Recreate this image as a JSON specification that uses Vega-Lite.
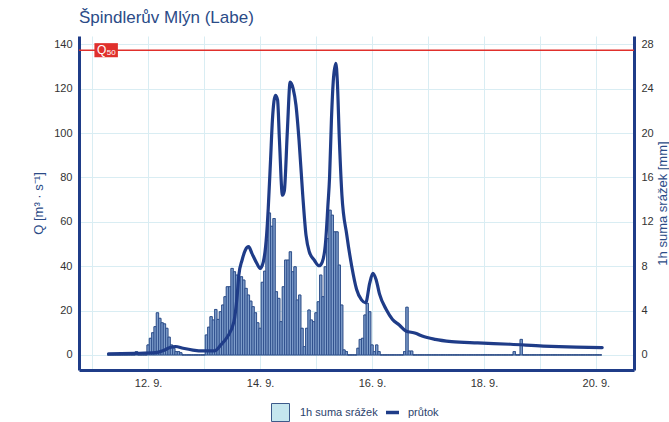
{
"$schema":"https://vega.github.io/schema/vega-lite/v6.json",
"width":555,"height":334,
"autosize":{"type":"none"},
"padding":{"left":79,"top":36,"right":35,"bottom":52},
"background":"white",
"config":{"font":"Liberation Sans","view":{"stroke":null},"axis":{"labelFont":"Liberation Sans","titleFont":"Liberation Sans"}},
"title":{"text":"Špindlerův Mlýn (Labe)","anchor":"start","frame":"group","fontSize":17,"fontWeight":"normal","color":"#2b4b87","offset":9,"font":"Liberation Sans"},
"datasets":{
"flow":[
{"t":"2024-09-11T07:00","q":0.5},{"t":"2024-09-11T18:00","q":0.7},{"t":"2024-09-12T03:00","q":1.0},{"t":"2024-09-12T06:36","q":2.0},{"t":"2024-09-12T09:06","q":3.2},{"t":"2024-09-12T11:42","q":3.8},{"t":"2024-09-12T15:00","q":3.0},{"t":"2024-09-12T19:12","q":2.2},{"t":"2024-09-12T23:30","q":1.8},{"t":"2024-09-13T04:24","q":1.8},{"t":"2024-09-13T07:12","q":4.5},{"t":"2024-09-13T10:00","q":8.2},{"t":"2024-09-13T12:48","q":15},{"t":"2024-09-13T14:12","q":27},{"t":"2024-09-13T14:54","q":36},{"t":"2024-09-13T16:18","q":42.8},{"t":"2024-09-13T17:42","q":47.3},{"t":"2024-09-13T19:06","q":48.8},{"t":"2024-09-13T20:30","q":45.8},{"t":"2024-09-13T22:36","q":41.3},{"t":"2024-09-14T00:00","q":39},{"t":"2024-09-14T01:24","q":42},{"t":"2024-09-14T02:48","q":54},{"t":"2024-09-14T03:30","q":66},{"t":"2024-09-14T04:30","q":88},{"t":"2024-09-14T05:18","q":106},{"t":"2024-09-14T06:36","q":117},{"t":"2024-09-14T07:30","q":115},{"t":"2024-09-14T08:18","q":97},{"t":"2024-09-14T09:36","q":72},{"t":"2024-09-14T10:24","q":74},{"t":"2024-09-14T11:42","q":101},{"t":"2024-09-14T12:54","q":123},{"t":"2024-09-14T14:12","q":120},{"t":"2024-09-14T15:24","q":112.6},{"t":"2024-09-14T16:42","q":97},{"t":"2024-09-14T18:18","q":72},{"t":"2024-09-14T19:42","q":54},{"t":"2024-09-14T21:06","q":46.5},{"t":"2024-09-14T23:12","q":42.8},{"t":"2024-09-15T01:18","q":40.2},{"t":"2024-09-15T02:42","q":42},{"t":"2024-09-15T04:06","q":51},{"t":"2024-09-15T05:06","q":67.5},{"t":"2024-09-15T05:48","q":80},{"t":"2024-09-15T06:36","q":106},{"t":"2024-09-15T07:30","q":125},{"t":"2024-09-15T08:30","q":131.5},{"t":"2024-09-15T09:06","q":124},{"t":"2024-09-15T10:00","q":97},{"t":"2024-09-15T11:06","q":72},{"t":"2024-09-15T13:12","q":54},{"t":"2024-09-15T15:18","q":40},{"t":"2024-09-15T17:24","q":29.5},{"t":"2024-09-15T19:30","q":24.8},{"t":"2024-09-15T21:18","q":23.5},{"t":"2024-09-15T23:00","q":32.3},{"t":"2024-09-16T00:24","q":36.8},{"t":"2024-09-16T01:48","q":33.8},{"t":"2024-09-16T03:12","q":27.5},{"t":"2024-09-16T06:06","q":20.5},{"t":"2024-09-16T08:48","q":16},{"t":"2024-09-16T11:42","q":13.5},{"t":"2024-09-16T14:30","q":10.8},{"t":"2024-09-16T18:42","q":9.8},{"t":"2024-09-16T21:30","q":8.5},{"t":"2024-09-17T03:06","q":7},{"t":"2024-09-17T10:06","q":6},{"t":"2024-09-17T21:18","q":5.4},{"t":"2024-09-18T11:24","q":4.8},{"t":"2024-09-19T01:24","q":4.0},{"t":"2024-09-19T15:30","q":3.5},{"t":"2024-09-20T02:42","q":3.3}
],
"rain":[
{"t":"2024-09-11T07:00","p":0},{"t":"2024-09-11T08:00","p":0},{"t":"2024-09-11T09:00","p":0},{"t":"2024-09-11T10:00","p":0},{"t":"2024-09-11T11:00","p":0},{"t":"2024-09-11T12:00","p":0},{"t":"2024-09-11T13:00","p":0},{"t":"2024-09-11T14:00","p":0},{"t":"2024-09-11T15:00","p":0},{"t":"2024-09-11T16:00","p":0},{"t":"2024-09-11T17:00","p":0},{"t":"2024-09-11T18:00","p":0},{"t":"2024-09-11T19:00","p":0.3},{"t":"2024-09-11T20:00","p":0},{"t":"2024-09-11T21:00","p":0},{"t":"2024-09-11T22:00","p":0},{"t":"2024-09-11T23:00","p":0},
{"t":"2024-09-12T00:00","p":0.9},{"t":"2024-09-12T01:00","p":1.5},{"t":"2024-09-12T02:00","p":2.0},{"t":"2024-09-12T03:00","p":2.55},{"t":"2024-09-12T04:00","p":3.8},{"t":"2024-09-12T05:00","p":3.3},{"t":"2024-09-12T06:00","p":2.9},{"t":"2024-09-12T07:00","p":2.8},{"t":"2024-09-12T08:00","p":2.4},{"t":"2024-09-12T09:00","p":1.6},{"t":"2024-09-12T10:00","p":0.9},{"t":"2024-09-12T11:00","p":0.6},{"t":"2024-09-12T12:00","p":0.3},{"t":"2024-09-12T13:00","p":0.3},{"t":"2024-09-12T14:00","p":0.2},{"t":"2024-09-12T15:00","p":0},{"t":"2024-09-12T16:00","p":0},{"t":"2024-09-12T17:00","p":0},{"t":"2024-09-12T18:00","p":0},{"t":"2024-09-12T19:00","p":0},{"t":"2024-09-12T20:00","p":0},{"t":"2024-09-12T21:00","p":0},{"t":"2024-09-12T22:00","p":0},{"t":"2024-09-12T23:00","p":0},
{"t":"2024-09-13T00:00","p":0},{"t":"2024-09-13T01:00","p":1.8},{"t":"2024-09-13T02:00","p":2.5},{"t":"2024-09-13T03:00","p":3.45},{"t":"2024-09-13T04:00","p":3.15},{"t":"2024-09-13T05:00","p":4.1},{"t":"2024-09-13T06:00","p":3.2},{"t":"2024-09-13T07:00","p":3.9},{"t":"2024-09-13T08:00","p":4.5},{"t":"2024-09-13T09:00","p":5.25},{"t":"2024-09-13T10:00","p":6.15},{"t":"2024-09-13T11:00","p":6.15},{"t":"2024-09-13T12:00","p":7.8},{"t":"2024-09-13T13:00","p":7.5},{"t":"2024-09-13T14:00","p":7.2},{"t":"2024-09-13T15:00","p":6.75},{"t":"2024-09-13T16:00","p":7.05},{"t":"2024-09-13T17:00","p":6.75},{"t":"2024-09-13T18:00","p":6.0},{"t":"2024-09-13T19:00","p":5.4},{"t":"2024-09-13T20:00","p":4.85},{"t":"2024-09-13T21:00","p":4.35},{"t":"2024-09-13T22:00","p":3.8},{"t":"2024-09-13T23:00","p":2.9},
{"t":"2024-09-14T00:00","p":2.4},{"t":"2024-09-14T01:00","p":6.55},{"t":"2024-09-14T02:00","p":7.55},{"t":"2024-09-14T03:00","p":10.35},{"t":"2024-09-14T04:00","p":12.8},{"t":"2024-09-14T05:00","p":11.6},{"t":"2024-09-14T06:00","p":12.3},{"t":"2024-09-14T07:00","p":5.7},{"t":"2024-09-14T08:00","p":5.1},{"t":"2024-09-14T09:00","p":3.0},{"t":"2024-09-14T10:00","p":6.15},{"t":"2024-09-14T11:00","p":8.55},{"t":"2024-09-14T12:00","p":8.55},{"t":"2024-09-14T13:00","p":9.3},{"t":"2024-09-14T14:00","p":7.5},{"t":"2024-09-14T15:00","p":7.95},{"t":"2024-09-14T16:00","p":4.95},{"t":"2024-09-14T17:00","p":5.4},{"t":"2024-09-14T18:00","p":2.4},{"t":"2024-09-14T19:00","p":0.75},{"t":"2024-09-14T20:00","p":2.4},{"t":"2024-09-14T21:00","p":4.05},{"t":"2024-09-14T22:00","p":3.15},{"t":"2024-09-14T23:00","p":3.0},
{"t":"2024-09-15T00:00","p":3.8},{"t":"2024-09-15T01:00","p":4.8},{"t":"2024-09-15T02:00","p":7.2},{"t":"2024-09-15T03:00","p":5.25},{"t":"2024-09-15T04:00","p":7.95},{"t":"2024-09-15T05:00","p":10.5},{"t":"2024-09-15T06:00","p":13.05},{"t":"2024-09-15T07:00","p":12.6},{"t":"2024-09-15T08:00","p":11.1},{"t":"2024-09-15T09:00","p":11.1},{"t":"2024-09-15T10:00","p":8.1},{"t":"2024-09-15T11:00","p":4.5},{"t":"2024-09-15T12:00","p":0.45},{"t":"2024-09-15T13:00","p":0.3},{"t":"2024-09-15T14:00","p":0},{"t":"2024-09-15T15:00","p":0},{"t":"2024-09-15T16:00","p":0},{"t":"2024-09-15T17:00","p":0},{"t":"2024-09-15T18:00","p":0.6},{"t":"2024-09-15T19:00","p":1.4},{"t":"2024-09-15T20:00","p":1.5},{"t":"2024-09-15T21:00","p":3.6},{"t":"2024-09-15T22:00","p":4.65},{"t":"2024-09-15T23:00","p":3.9},
{"t":"2024-09-16T00:00","p":0.9},{"t":"2024-09-16T01:00","p":0.3},{"t":"2024-09-16T02:00","p":0.9},{"t":"2024-09-16T03:00","p":0.3},{"t":"2024-09-16T04:00","p":0},{"t":"2024-09-16T05:00","p":0},{"t":"2024-09-16T06:00","p":0},{"t":"2024-09-16T07:00","p":0},{"t":"2024-09-16T08:00","p":0},{"t":"2024-09-16T09:00","p":0},{"t":"2024-09-16T10:00","p":0},{"t":"2024-09-16T11:00","p":0},{"t":"2024-09-16T12:00","p":0},{"t":"2024-09-16T13:00","p":0},{"t":"2024-09-16T14:00","p":0.3},{"t":"2024-09-16T15:00","p":4.3},{"t":"2024-09-16T16:00","p":0.35},{"t":"2024-09-16T17:00","p":0.35},{"t":"2024-09-16T18:00","p":0},{"t":"2024-09-16T19:00","p":0},{"t":"2024-09-16T20:00","p":0},{"t":"2024-09-16T21:00","p":0},{"t":"2024-09-16T22:00","p":0},{"t":"2024-09-16T23:00","p":0},
{"t":"2024-09-17T00:00","p":0},{"t":"2024-09-17T01:00","p":0},{"t":"2024-09-17T02:00","p":0},{"t":"2024-09-17T03:00","p":0},{"t":"2024-09-17T04:00","p":0},{"t":"2024-09-17T05:00","p":0},{"t":"2024-09-17T06:00","p":0},{"t":"2024-09-17T07:00","p":0},{"t":"2024-09-17T08:00","p":0},{"t":"2024-09-17T09:00","p":0},{"t":"2024-09-17T10:00","p":0},{"t":"2024-09-17T11:00","p":0},{"t":"2024-09-17T12:00","p":0},{"t":"2024-09-17T13:00","p":0},{"t":"2024-09-17T14:00","p":0},{"t":"2024-09-17T15:00","p":0},{"t":"2024-09-17T16:00","p":0},{"t":"2024-09-17T17:00","p":0},{"t":"2024-09-17T18:00","p":0},{"t":"2024-09-17T19:00","p":0},{"t":"2024-09-17T20:00","p":0},{"t":"2024-09-17T21:00","p":0},{"t":"2024-09-17T22:00","p":0},{"t":"2024-09-17T23:00","p":0},
{"t":"2024-09-18T00:00","p":0},{"t":"2024-09-18T01:00","p":0},{"t":"2024-09-18T02:00","p":0},{"t":"2024-09-18T03:00","p":0},{"t":"2024-09-18T04:00","p":0},{"t":"2024-09-18T05:00","p":0},{"t":"2024-09-18T06:00","p":0},{"t":"2024-09-18T07:00","p":0},{"t":"2024-09-18T08:00","p":0},{"t":"2024-09-18T09:00","p":0},{"t":"2024-09-18T10:00","p":0},{"t":"2024-09-18T11:00","p":0},{"t":"2024-09-18T12:00","p":0},{"t":"2024-09-18T13:00","p":0.3},{"t":"2024-09-18T14:00","p":0},{"t":"2024-09-18T15:00","p":0},{"t":"2024-09-18T16:00","p":1.4},{"t":"2024-09-18T17:00","p":0},{"t":"2024-09-18T18:00","p":0},{"t":"2024-09-18T19:00","p":0},{"t":"2024-09-18T20:00","p":0},{"t":"2024-09-18T21:00","p":0},{"t":"2024-09-18T22:00","p":0},{"t":"2024-09-18T23:00","p":0},
{"t":"2024-09-19T00:00","p":0},{"t":"2024-09-19T01:00","p":0},{"t":"2024-09-19T02:00","p":0},{"t":"2024-09-19T03:00","p":0},{"t":"2024-09-19T04:00","p":0},{"t":"2024-09-19T05:00","p":0},{"t":"2024-09-19T06:00","p":0},{"t":"2024-09-19T07:00","p":0},{"t":"2024-09-19T08:00","p":0},{"t":"2024-09-19T09:00","p":0},{"t":"2024-09-19T10:00","p":0},{"t":"2024-09-19T11:00","p":0},{"t":"2024-09-19T12:00","p":0},{"t":"2024-09-19T13:00","p":0},{"t":"2024-09-19T14:00","p":0},{"t":"2024-09-19T15:00","p":0},{"t":"2024-09-19T16:00","p":0},{"t":"2024-09-19T17:00","p":0},{"t":"2024-09-19T18:00","p":0},{"t":"2024-09-19T19:00","p":0},{"t":"2024-09-19T20:00","p":0},{"t":"2024-09-19T21:00","p":0},{"t":"2024-09-19T22:00","p":0},{"t":"2024-09-19T23:00","p":0},
{"t":"2024-09-20T00:00","p":0},{"t":"2024-09-20T01:00","p":0},{"t":"2024-09-20T02:00","p":0}
]
},
"layer":[
{"layer":[
 {"data":{"name":"rain"},
  "mark":{"type":"bar","size":2.3,"stroke":"#3d5a8a","strokeWidth":0.8},
  "encoding":{
   "x":{"field":"t","type":"temporal","title":null,
    "scale":{"domain":[{"year":2024,"month":9,"date":10,"hours":20,"minutes":30},{"year":2024,"month":9,"date":20,"hours":14,"minutes":12}]},
    "axis":{"values":[{"year":2024,"month":9,"date":11},{"year":2024,"month":9,"date":12},{"year":2024,"month":9,"date":13},{"year":2024,"month":9,"date":14},{"year":2024,"month":9,"date":15},{"year":2024,"month":9,"date":16},{"year":2024,"month":9,"date":17},{"year":2024,"month":9,"date":18},{"year":2024,"month":9,"date":19},{"year":2024,"month":9,"date":20}],
     "labelExpr":"date(datum.value) % 2 === 0 ? timeFormat(datum.value, '%-d. %-m.') : ''",
     "grid":true,"gridColor":"#d9edf3","gridWidth":1,"ticks":false,"domainColor":"#1f3c88","domainWidth":3,
     "labelPadding":7,"labelFontSize":11,"labelColor":"#333333","labelFlush":false,"labelOverlap":false,"title":null}},
   "y":{"field":"p","type":"quantitative",
    "scale":{"domain":[-1.36,28.76],"nice":false},
    "axis":{"orient":"right","values":[0,4,8,12,16,20,24,28],"grid":false,"ticks":false,"domainColor":"#1f3c88","domainWidth":3,
     "labelPadding":7,"labelFontSize":11,"labelColor":"#333333","title":"1h suma srážek [mm]","titleFontSize":13,"titleFontWeight":"normal","titleColor":"#2b4b87","titlePadding":3,"titleAngle":270,"titleBaseline":"top"}},
   "fill":{"datum":"1h suma srážek","type":"nominal",
    "scale":{"domain":["1h suma srážek"],"range":["#c5e6ee"]},
    "legend":{"orient":"none","legendX":192,"legendY":367,"direction":"horizontal","title":null,"labelFontSize":11,"labelColor":"#2b3f6b","labelFont":"Liberation Sans","labelOffset":10,"symbolType":"square","symbolSize":324,"symbolStrokeColor":"#3d5a8a","symbolStrokeWidth":1,"symbolOpacity":1}}
  }},
 {"data":{"name":"rain"},
  "mark":{"type":"bar","size":2.3,"fill":"#7f9ecb","stroke":"#274787","strokeWidth":0.8},
  "encoding":{
   "x":{"field":"t","type":"temporal","title":null},
   "y":{"field":"p","type":"quantitative",
    "scale":{"domain":[-1.36,28.76],"nice":false},
    "axis":{"orient":"right","values":[0,4,8,12,16,20,24,28],"grid":false,"ticks":false,"domainColor":"#1f3c88","domainWidth":3,
     "labelPadding":7,"labelFontSize":11,"labelColor":"#333333","title":"1h suma srážek [mm]","titleFontSize":13,"titleFontWeight":"normal","titleColor":"#2b4b87","titlePadding":3,"titleAngle":270,"titleBaseline":"top"}}
  }}
]},
{"layer":[
  {"data":{"name":"flow"},
   "mark":{"type":"line","interpolate":"monotone","strokeWidth":3.2,"strokeCap":"round","strokeJoin":"round"},
   "encoding":{
    "x":{"field":"t","type":"temporal","title":null},
    "y":{"field":"q","type":"quantitative","scale":{"domain":[-6.8,143.8],"nice":false},
     "axis":{"values":[0,20,40,60,80,100,120,140],"grid":true,"gridColor":"#d9edf3","gridWidth":1,"ticks":false,"domainColor":"#1f3c88","domainWidth":3,
      "labelPadding":7,"labelFontSize":11,"labelColor":"#333333","title":"Q [m³ · s⁻¹]","titleFontSize":13,"titleFontWeight":"normal","titleColor":"#2b4b87","titlePadding":8}},
    "stroke":{"datum":"průtok","type":"nominal",
     "scale":{"domain":["průtok"],"range":["#1f3c88"]},
     "legend":{"orient":"none","legendX":305,"legendY":368,"direction":"horizontal","title":null,"labelFontSize":11,"labelColor":"#2b3f6b","labelFont":"Liberation Sans","labelOffset":7,"symbolType":"stroke","symbolSize":170,"symbolStrokeWidth":3.5}}}},
  {"data":{"values":[{}]},
   "mark":{"type":"rule","color":"#e0302c","strokeWidth":1.5},
   "encoding":{"y":{"datum":137.4,"type":"quantitative"}}},
  {"data":{"values":[{}]},
   "mark":{"type":"point","shape":"M-1,-0.6H1V0.6H-1Z","size":552,"filled":true,"fill":"#e0302c","stroke":null,"opacity":1},
   "encoding":{"x":{"datum":{"year":2024,"month":9,"date":11,"hours":6},"type":"temporal"},"y":{"datum":137.4,"type":"quantitative"}}},
  {"data":{"values":[{}]},
   "mark":{"type":"text","text":"Q","color":"white","fontSize":12,"dx":-4.5,"dy":0,"align":"center","baseline":"middle","font":"Liberation Sans"},
   "encoding":{"x":{"datum":{"year":2024,"month":9,"date":11,"hours":6},"type":"temporal"},"y":{"datum":137.4,"type":"quantitative"}}},
  {"data":{"values":[{}]},
   "mark":{"type":"text","text":"50","color":"white","fontSize":8,"dx":5,"dy":2.5,"align":"center","baseline":"middle","font":"Liberation Sans"},
   "encoding":{"x":{"datum":{"year":2024,"month":9,"date":11,"hours":6},"type":"temporal"},"y":{"datum":137.4,"type":"quantitative"}}}
 ]}
],
"resolve":{"scale":{"y":"independent"}}
}
